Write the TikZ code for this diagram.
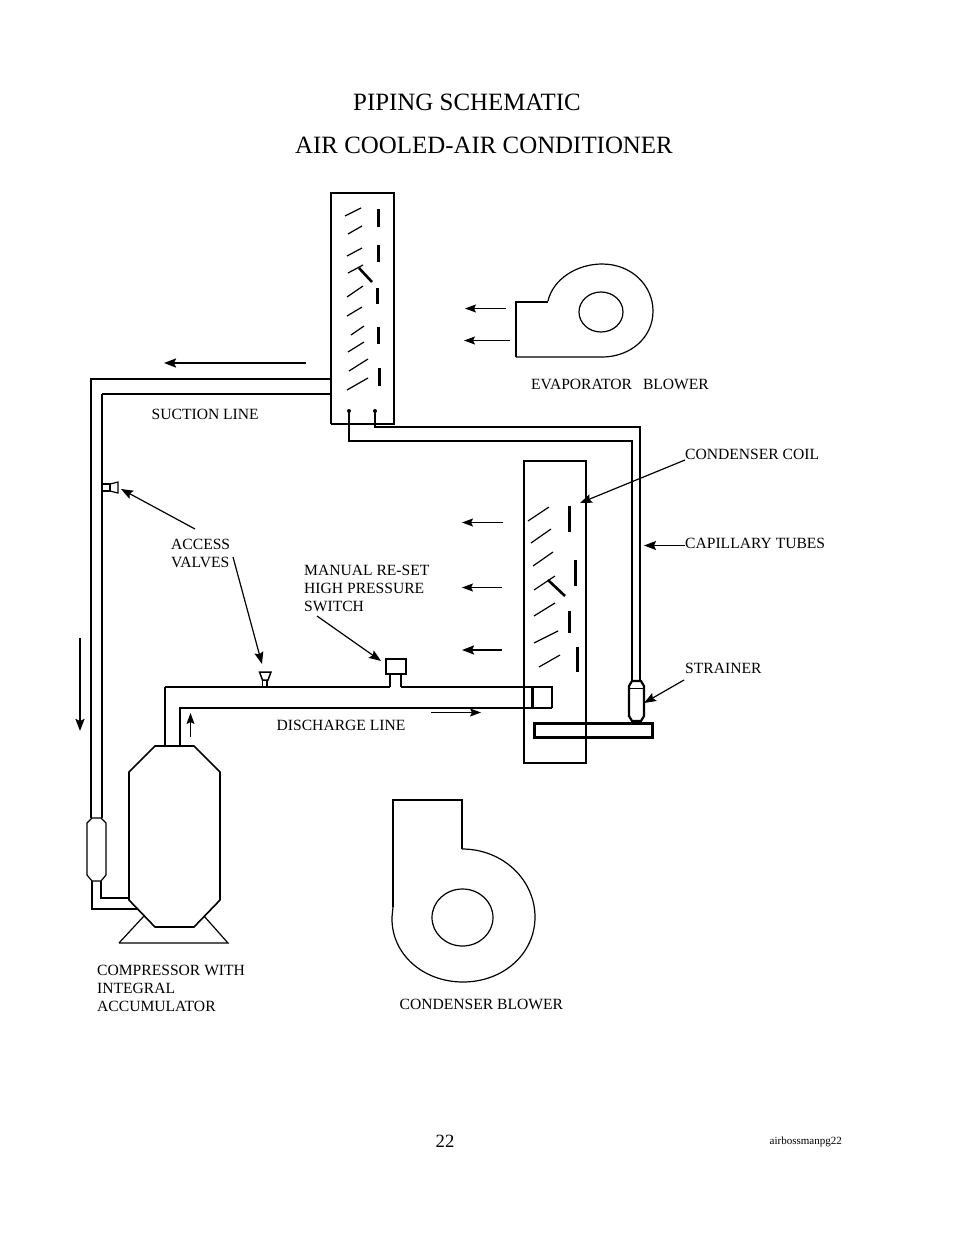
\documentclass[tikz,border=0pt]{standalone}
\usepackage{fontspec}
\setmainfont{Liberation Serif}
\usetikzlibrary{arrows.meta}
\tikzset{
  thinline/.style={line width=1.2pt},
  pipeline/.style={line width=2pt},
  finline/.style={line width=1.2pt},
  barline/.style={line width=3pt},
  leader/.style={line width=1.2pt,-{Stealth[length=12pt,width=9pt,inset=2pt]}},
  flow/.style={line width=1.1pt,-{Stealth[length=11pt,width=8pt,inset=2pt]}},
  bigflow/.style={line width=2pt,-{Stealth[length=12pt,width=9pt,inset=2pt]}},
  lbl/.style={inner sep=0pt,anchor=base west,font=\fontsize{15.6}{18}\selectfont},
  mlbl/.style={inner sep=0pt,anchor=north west,align=left,font=\fontsize{15.6}{18}\selectfont},
  ttl/.style={inner sep=0pt,anchor=base west,font=\fontsize{24.9}{30}\selectfont},
}
\begin{document}
\begin{tikzpicture}[x=1pt,y=-1pt]
  \useasboundingbox (0,0) rectangle (954,1235);
  \node[ttl] (title1) at (353,110) {PIPING SCHEMATIC};
  \node[ttl] (title2) at (295,153) {AIR COOLED-AIR CONDITIONER};
  \node[lbl] (suct) at (151.5,419) {SUCTION LINE};
  \node[lbl] (evap) at (531,389) {EVAPORATOR\hspace{11pt}BLOWER};
  \node[lbl] (ccoil) at (685,459) {CONDENSER COIL};
  \node[lbl] (capt) at (685,548) {CAPILLARY TUBES};
  \node[lbl] (strn) at (685,673) {STRAINER};
  \node[lbl] (disc) at (276.5,730) {DISCHARGE LINE};
  \node[lbl] (cblow) at (399.5,1009) {CONDENSER BLOWER};
  \node[mlbl] (acc) at (171,539) {ACCESS\\VALVES};
  \node[mlbl] (hps) at (304,565) {MANUAL RE-SET\\HIGH PRESSURE\\SWITCH};
  \node[mlbl] (comp) at (97,965) {COMPRESSOR WITH\\INTEGRAL\\ACCUMULATOR};
  \node[inner sep=0pt,anchor=base west,font=\fontsize{18.7}{20}\selectfont] (page) at (435.5,1147) {22};
  \node[inner sep=0pt,anchor=base west,font=\fontsize{11}{12}\selectfont] (fname) at (769.5,1144) {airbossmanpg22};
  % evaporator coil
  \draw[thinline] (394,193) -- (331,193) -- (331,424);
  \draw[pipeline] (394,192) -- (394,424) -- (331,424);
  \begin{scope}[finline]
    \draw (345,216) -- (361,208);
    \draw (348,234) -- (362,226);
    \draw (347,256) -- (362,248);
    \draw (348,273) -- (363,265);
    \draw (347,297) -- (363,286);
    \draw (347,316) -- (362,307);
    \draw (351,335) -- (364,326);
    \draw (348,352) -- (364,342);
    \draw (349,371) -- (368,359);
    \draw (347,390) -- (368,378);
  \end{scope}
  \begin{scope}[barline]
    \draw (378,209) -- (378,227);
    \draw (378,245) -- (378,262);
    \draw (377,288) -- (377,304);
    \draw (378,327) -- (378,344);
    \draw (379,368) -- (379,386);
  \end{scope}
  \draw[line width=2.6pt] (359,268) -- (372,282);
  \fill (349,411) circle (2pt);
  \fill (375,411) circle (2pt);
  % capillary tubes
  \draw[pipeline] (375,411) -- (375,427) -- (640,427) -- (640,682);
  \draw[pipeline] (349,411) -- (349,441) -- (632,441) -- (632,682);
  % condenser coil
  \draw[thinline] (524,461) -- (586,461) -- (586,763) -- (524,763) -- cycle;
  \begin{scope}[finline]
    \draw (528,521) -- (549,507);
    \draw (531,543) -- (551,529);
    \draw (533,566) -- (553,552);
    \draw (534,590) -- (555,576);
    \draw (534,616) -- (555,603);
    \draw (534,643) -- (558,631);
    \draw (539,667) -- (560,655);
  \end{scope}
  \begin{scope}[barline]
    \draw (569,506) -- (569,532);
    \draw (575,560) -- (575,586);
    \draw (569,611) -- (569,633);
    \draw (577,647) -- (577,672);
  \end{scope}
  \draw[line width=2.6pt] (548,580) -- (565,596);
  \draw[line width=3pt] (534,723) rectangle (652,737);
  % strainer
  \draw[line width=2.2pt,fill=white] (632,681) -- (641,681) -- (644,686) -- (644,716) -- (641,721) -- (632,721) -- (629,716) -- (629,686) -- cycle;
  \draw[line width=1pt] (630,688) -- (643,688);
  % suction line
  \draw[line width=2.2pt] (331,379) -- (91,379) -- (91,818);
  \draw[line width=1.4pt] (331,394) -- (102,394);
  \draw[pipeline] (102,393.5) -- (102,818);
  \draw[pipeline] (92,881) -- (92,909) -- (137,909);
  \draw[pipeline] (101,881) -- (101,898) -- (129,898);
  \draw[thinline,fill=white] (92,818) -- (101,818) -- (106,823) -- (106,875) -- (101,881) -- (92,881) -- (87,875) -- (87,823) -- cycle;
  \draw[thinline] (102,484) -- (110,484) -- (110,491) -- (102,491);
  \draw[thinline] (110,484) -- (118,482) -- (118,493) -- (110,491) -- cycle;
  % discharge line
  \draw[pipeline] (180,746) -- (180,708) -- (552,708);
  \draw[pipeline] (165,746) -- (165,687);
  \draw[thinline] (165,687) -- (390,687);
  \draw[thinline] (401,687) -- (552,687) -- (552,708);
  \draw[barline] (532,687) -- (532,708);
  \draw[thinline] (390,687) -- (390,674);
  \draw[pipeline] (401,687) -- (401,674);
  \draw[line width=1.5pt] (386,659) rectangle (406,674);
  \draw[line width=1.5pt] (259.5,672) -- (271,672) -- (268,680) -- (262.5,680) -- cycle;
  \draw[thinline] (262.5,680) -- (262.5,687);
  \draw[thinline] (267,680) -- (267,687);
  % compressor
  \draw[thinline] (119,943) -- (144,916);
  \draw[thinline] (119,943) -- (228,943) -- (204,916);
  \draw[line width=1.6pt,fill=white] (155,746) -- (194,746) -- (220,772) -- (220,900) -- (194,927) -- (155,927) -- (129,900) -- (129,772) -- cycle;
  % blowers
  \draw[thinline] (548,301) .. controls (553,279) and (577,264) .. (602,264) .. controls (632,264) and (653,286) .. (653,311) .. controls (653,338) and (630,357) .. (602,357) -- (516,357);
  \draw[pipeline] (516,357) -- (516,302) -- (548,302);
  \draw[thinline] (601,312) ellipse [x radius=22pt,y radius=20pt];
  \draw[thinline] (393,907) -- (393,800);
  \draw[pipeline] (392,800) -- (462,800) -- (462,849);
  \draw[thinline] (462,849) .. controls (503,849) and (535,880) .. (535,917) .. controls (535,954) and (503,982) .. (463,982) .. controls (423,982) and (391,954) .. (392,917) -- (393,907);
  \draw[thinline] (462.5,917.5) ellipse [x radius=30.5pt,y radius=28.5pt];
  % flow arrows
  \coordinate (sufrom) at (306,363);
  \coordinate (suto) at (164,363);
  \coordinate (dnfrom) at (80,638);
  \coordinate (dnto) at (80,731);
  \coordinate (upfrom) at (190.5,737);
  \coordinate (upto) at (190.5,713);
  \coordinate (difrom) at (431,712.5);
  \coordinate (dito) at (481,712.5);
  \coordinate (eafrom) at (506,308.5);
  \coordinate (eato) at (465,308.5);
  \coordinate (ebfrom) at (510,340.5);
  \coordinate (ebto) at (464,340.5);
  \coordinate (cafrom) at (503,522.5);
  \coordinate (cato) at (462,522.5);
  \coordinate (cbfrom) at (502,587.5);
  \coordinate (cbto) at (462,587.5);
  \coordinate (ccfrom) at (502,650);
  \coordinate (ccto) at (462,650);
  \draw[bigflow] (sufrom) -- (suto);
  \draw[bigflow] (dnfrom) -- (dnto);
  \draw[flow] (upfrom) -- (upto);
  \draw[flow] (difrom) -- (dito);
  \draw[flow] (eafrom) -- (eato);
  \draw[flow] (ebfrom) -- (ebto);
  \draw[flow] (cafrom) -- (cato);
  \draw[flow] (cbfrom) -- (cbto);
  \draw[bigflow] (ccfrom) -- (ccto);
  % leaders
  \coordinate (cofrom) at (685,460);
  \coordinate (coto) at (580,503);
  \coordinate (cpfrom) at (685,545.5);
  \coordinate (cpto) at (644,545.5);
  \coordinate (stfrom) at (684,680);
  \coordinate (stto) at (644,703);
  \coordinate (avafrom) at (195,529);
  \coordinate (avato) at (121,489);
  \coordinate (avbfrom) at (233,557);
  \coordinate (avbto) at (262,664);
  \coordinate (hpfrom) at (317,616);
  \coordinate (hpto) at (381,661);
  \draw[leader] (cofrom) -- (coto);
  \draw[leader] (cpfrom) -- (cpto);
  \draw[leader] (stfrom) -- (stto);
  \draw[leader] (avafrom) -- (avato);
  \draw[leader] (avbfrom) -- (avbto);
  \draw[leader] (hpfrom) -- (hpto);
\end{tikzpicture}
\end{document}
